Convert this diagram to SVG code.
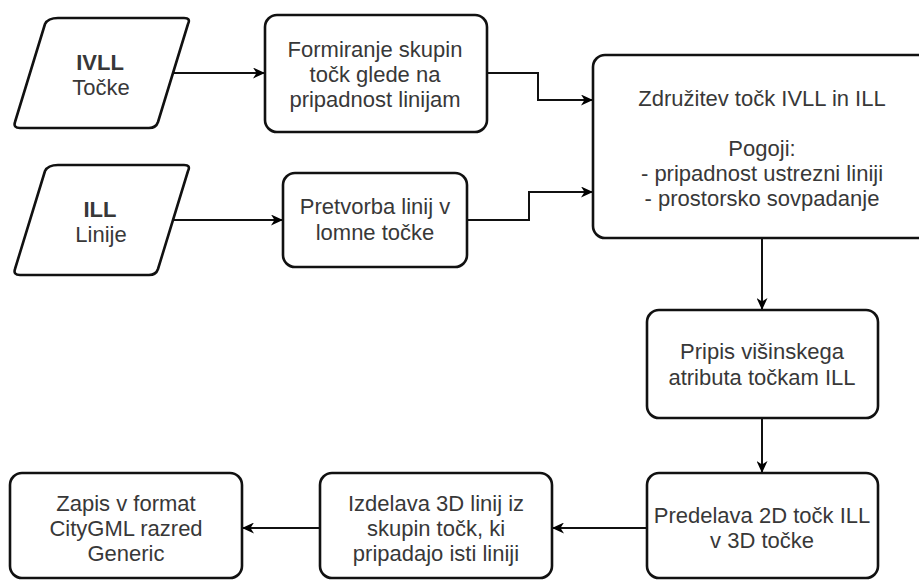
<svg xmlns="http://www.w3.org/2000/svg" width="919" height="580" viewBox="0 0 919 580">
<defs>
<marker id="arr" markerUnits="userSpaceOnUse" markerWidth="13" markerHeight="11" refX="12" refY="5.5" orient="auto">
<path d="M0,0 L12,5.5 L0,11 L3.5,5.5 Z" fill="#000"/>
</marker>
</defs>
<style>
.box{fill:#fff;stroke:#111;stroke-width:2.6;stroke-linejoin:round}
.t{font-family:"Liberation Sans",Arial,sans-serif;font-size:22px;fill:#383838;text-anchor:middle}
.b{font-weight:bold}
.c{fill:none;stroke:#111;stroke-width:2;marker-end:url(#arr)}
</style>
<rect width="919" height="580" fill="#fff"/>
<g id="connectors">
<path class="c" d="M172,73 H265"/>
<path class="c" d="M172,220 H283"/>
<path class="c" d="M487,73 H538 V100 H593"/>
<path class="c" d="M467,220 H529 V192 H593"/>
<path class="c" d="M762,238 V310"/>
<path class="c" d="M762,418 V473"/>
<path class="c" d="M647,528 H552"/>
<path class="c" d="M320,528 H242"/>
</g>
<g id="n_ivll">
<path class="box" d="M58,18 H184 Q191,18 188,24 L158,122 Q156,128 149,128 H20 Q13,128 15,122 L45,24 Q48,18 58,18 Z"/>
<text class="t b" x="100" y="70">IVLL</text>
<text class="t" x="101" y="95">Točke</text>
</g>
<g id="n_ill">
<path class="box" d="M58,165 H184 Q191,165 188,171 L158,269 Q156,275 149,275 H20 Q13,275 15,269 L45,171 Q48,165 58,165 Z"/>
<text class="t b" x="100" y="217">ILL</text>
<text class="t" x="101" y="242">Linije</text>
</g>
<g id="n_formiranje">
<rect class="box" x="265" y="15" width="222" height="117" rx="12"/>
<text class="t" x="375" y="57">Formiranje skupin</text>
<text class="t" x="375" y="82">točk glede na</text>
<text class="t" x="375" y="107">pripadnost linijam</text>
</g>
<g id="n_pretvorba">
<rect class="box" x="283" y="173" width="184" height="94" rx="12"/>
<text class="t" x="375" y="214">Pretvorba linij v</text>
<text class="t" x="375" y="240">lomne točke</text>
</g>
<g id="n_zdruzitev">
<rect class="box" x="593" y="55" width="340" height="183" rx="12"/>
<text class="t" x="762" y="106">Združitev točk IVLL in ILL</text>
<text class="t" x="762" y="156">Pogoji:</text>
<text class="t" x="762" y="181">- pripadnost ustrezni liniji</text>
<text class="t" x="762" y="206">- prostorsko sovpadanje</text>
</g>
<g id="n_pripis">
<rect class="box" x="647" y="310" width="231" height="108" rx="12"/>
<text class="t" x="762" y="359">Pripis višinskega</text>
<text class="t" x="762" y="385">atributa točkam ILL</text>
</g>
<g id="n_predelava">
<rect class="box" x="647" y="473" width="231" height="105" rx="12"/>
<text class="t" x="762" y="523">Predelava 2D točk ILL</text>
<text class="t" x="762" y="548">v 3D točke</text>
</g>
<g id="n_izdelava">
<rect class="box" x="320" y="473" width="232" height="105" rx="12"/>
<text class="t" x="436" y="511">Izdelava 3D linij iz</text>
<text class="t" x="436" y="536">skupin točk, ki</text>
<text class="t" x="436" y="561">pripadajo isti liniji</text>
</g>
<g id="n_zapis">
<rect class="box" x="10" y="473" width="232" height="105" rx="12"/>
<text class="t" x="126" y="511">Zapis v format</text>
<text class="t" x="126" y="536">CityGML razred</text>
<text class="t" x="126" y="561">Generic</text>
</g>
</svg>
